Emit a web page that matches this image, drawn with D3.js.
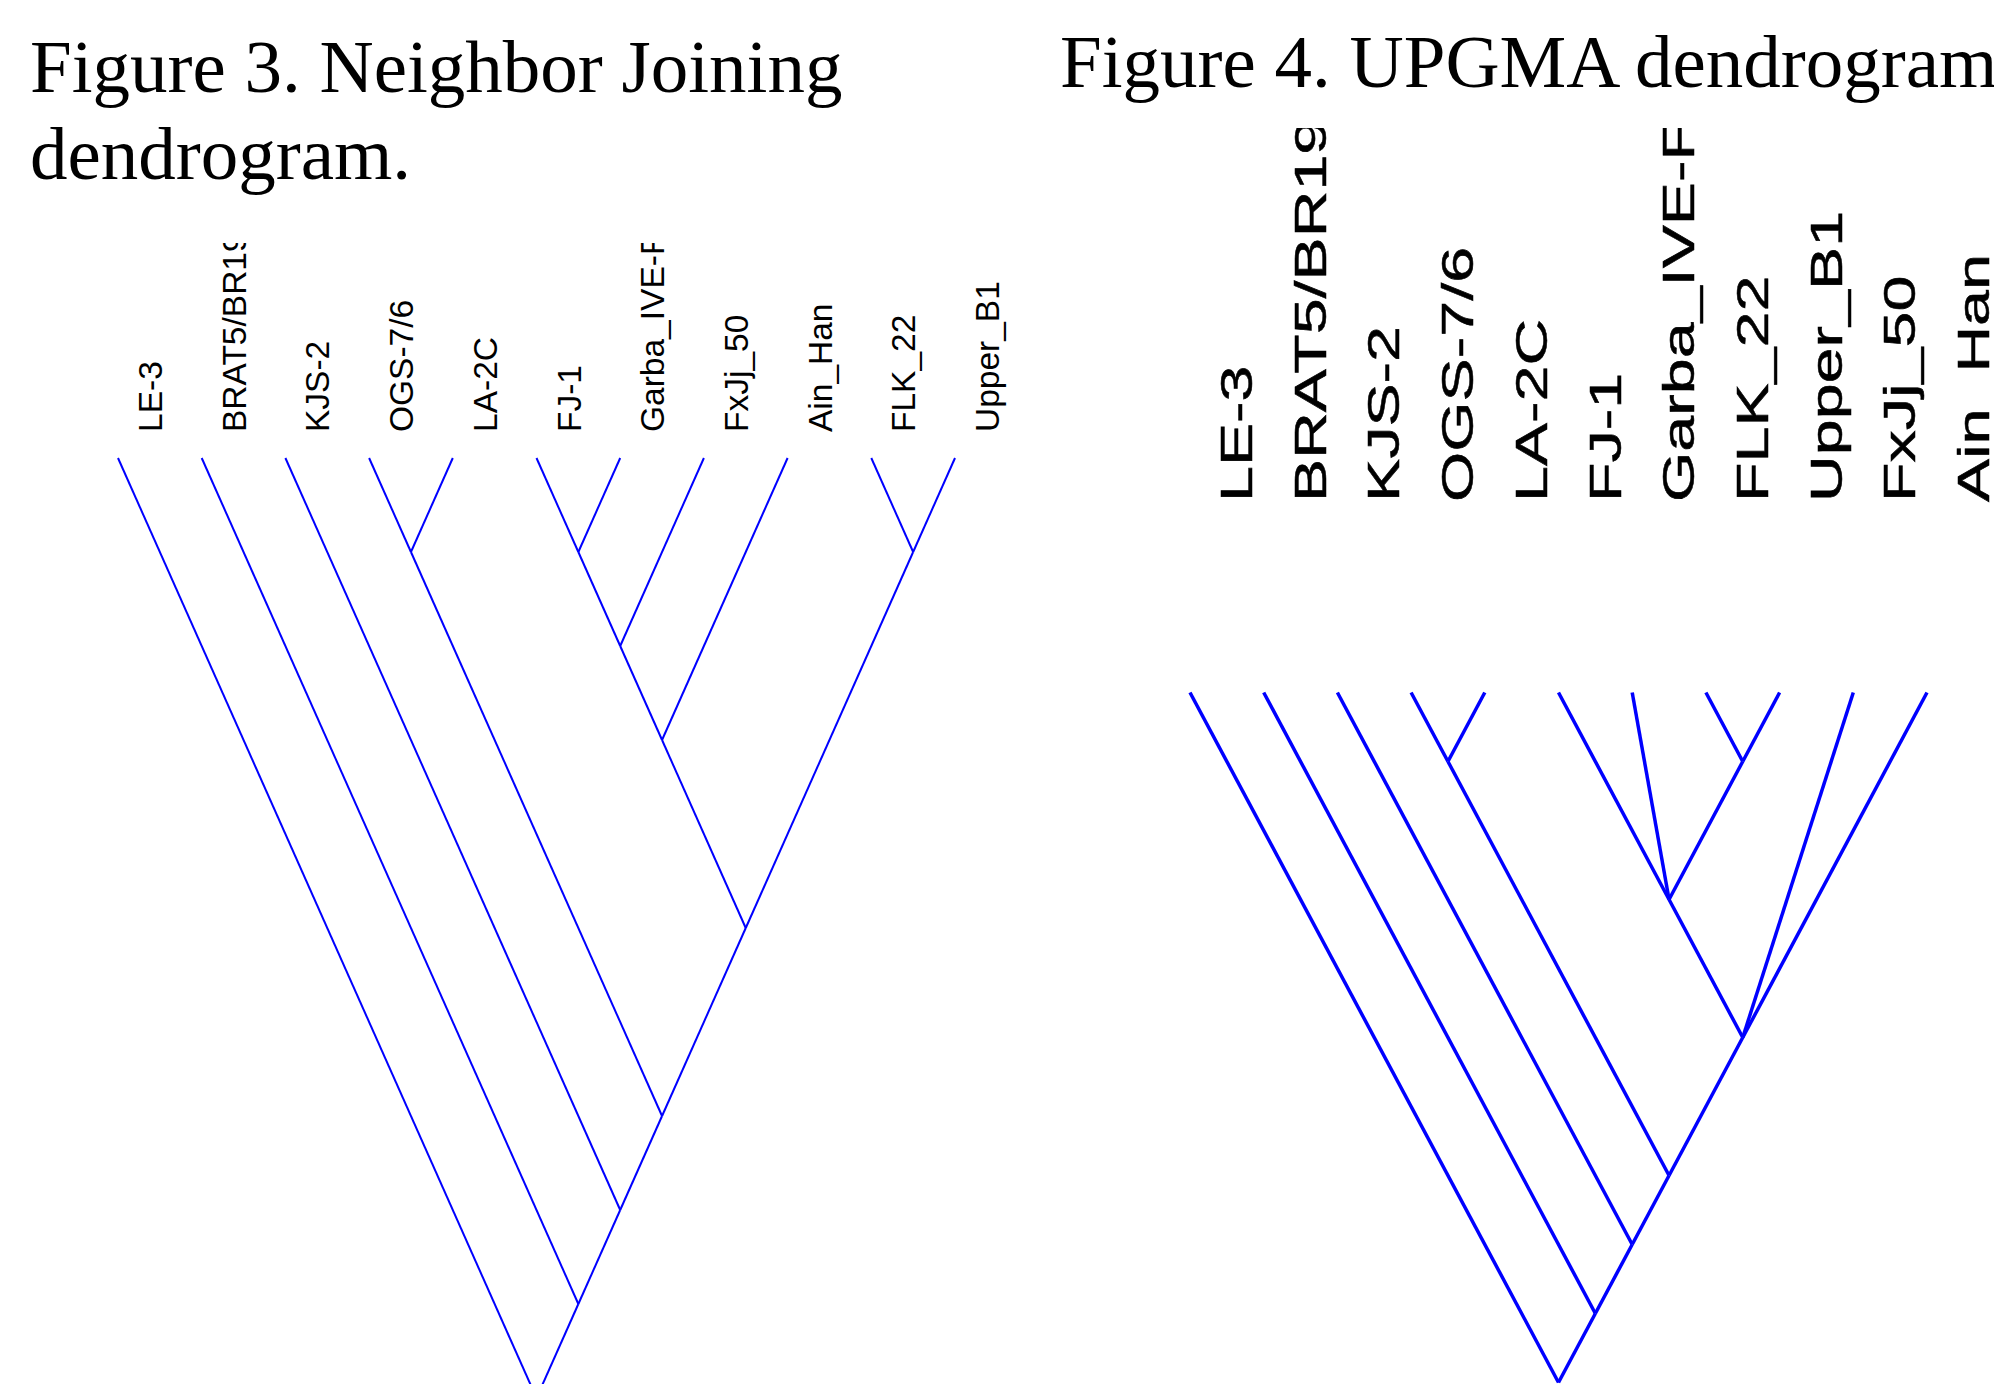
<!DOCTYPE html>
<html>
<head>
<meta charset="utf-8">
<script src="https://cdn.jsdelivr.net/npm/d3@7"></script>
<style>
  html, body { margin: 0; padding: 0; background: #fff; }
  svg { display: block; }
</style>
</head>
<body>
<script>
// Leaf order (left to right) for each tree
const njLeaves = ["LE-3", "BRAT5/BR19", "KJS-2", "OGS-7/6", "LA-2C", "FJ-1",
                  "Garba_IVE-F", "FxJj_50", "Ain_Han", "FLK_22", "Upper_B1"];
const upgmaLeaves = ["LE-3", "BRAT5/BR19", "KJS-2", "OGS-7/6", "LA-2C", "FJ-1",
                     "Garba_IVE-F", "FLK_22", "Upper_B1", "FxJj_50", "Ain_Han"];

// Tree topologies as nested arrays (Newick-like)
const njTree = ["LE-3", ["BRAT5/BR19", ["KJS-2", [["OGS-7/6", "LA-2C"],
  [[[["FJ-1", "Garba_IVE-F"], "FxJj_50"], "Ain_Han"], ["FLK_22", "Upper_B1"]]]]]];
const upgmaTree = ["LE-3", ["BRAT5/BR19", ["KJS-2", [["OGS-7/6", "LA-2C"],
  [["FJ-1", "Garba_IVE-F", ["FLK_22", "Upper_B1"]], "FxJj_50", "Ain_Han"]]]]];

const titles = {
  nj: ["Figure 3. Neighbor Joining", "dendrogram."],
  upgma: ["Figure 4. UPGMA dendrogram"]
};

const W = 1994, H = 1384;
const svg = d3.select("body").append("svg")
  .attr("width", W).attr("height", H)
  .attr("viewBox", `0 0 ${W} ${H}`);
svg.append("rect").attr("width", W).attr("height", H).attr("fill", "#fff");

const defs = svg.append("defs");

function drawCladogram(cfg) {
  const { leaves, tree, xRange, yTop, yRoot, strokeWidth, label } = cfg;
  const x = d3.scalePoint().domain(leaves).range(xRange);
  // height of a node = span of its leaves (in leaf steps)
  const y = d3.scaleLinear().domain([0, leaves.length - 1]).range([yTop, yRoot]);

  const root = d3.hierarchy(tree, d => Array.isArray(d) ? d : null);
  root.each(n => {
    const idx = n.leaves().map(l => leaves.indexOf(l.data));
    const lo = d3.min(idx), hi = d3.max(idx);
    n.px = (x(leaves[lo]) + x(leaves[hi])) / 2;
    n.py = y(hi - lo);
  });

  const g = svg.append("g");
  g.selectAll("line.branch")
    .data(root.links())
    .join("line")
    .attr("class", "branch")
    .attr("x1", d => d.source.px).attr("y1", d => d.source.py)
    .attr("x2", d => d.target.px).attr("y2", d => d.target.py)
    .attr("stroke", "#0000ff")
    .attr("stroke-width", strokeWidth)
    .attr("stroke-linecap", "butt");

  // leaf labels, clipped at the top of the plot area
  const clipId = "clip-" + cfg.id;
  defs.append("clipPath").attr("id", clipId)
    .append("rect").attr("x", 0).attr("y", label.clipTop)
    .attr("width", W).attr("height", H - label.clipTop);

  g.append("g").attr("clip-path", `url(#${clipId})`)
    .selectAll("text")
    .data(leaves)
    .join("text")
    .attr("transform", d => `translate(${x(d) + label.dx},${label.y}) rotate(-90) scale(${label.stretch},1)`)
    .attr("font-family", "'Liberation Sans', Arial, sans-serif")
    .attr("font-size", label.size)
    .attr("fill", "#000")
    .attr("stroke", label.weight > 0 ? "#000" : "none")
    .attr("stroke-width", label.weight)
    .text(d => d);
}

drawCladogram({
  id: "nj", leaves: njLeaves, tree: njTree,
  xRange: [118, 955], yTop: 458, yRoot: 1398, strokeWidth: 2,
  label: { dx: 44, y: 432, size: 33.5, stretch: 1, clipTop: 243, weight: 0 }
});

drawCladogram({
  id: "upgma", leaves: upgmaLeaves, tree: upgmaTree,
  xRange: [1190, 1927], yTop: 692.5, yRoot: 1382.5, strokeWidth: 3.5,
  label: { dx: 62, y: 502, size: 44, stretch: 1.47, clipTop: 128, weight: 0.5 }
});

// Figure titles
const serif = "'Liberation Serif', 'Times New Roman', Times, serif";
svg.append("g").selectAll("text")
  .data(titles.nj)
  .join("text")
  .attr("x", 30).attr("y", (d, i) => 92 + i * 87)
  .attr("font-family", serif).attr("font-size", 75).attr("fill", "#000")
  .text(d => d);

svg.append("g").selectAll("text")
  .data(titles.upgma)
  .join("text")
  .attr("x", 1060).attr("y", 87)
  .attr("font-family", serif).attr("font-size", 75).attr("fill", "#000")
  .text(d => d);
</script>
</body>
</html>
